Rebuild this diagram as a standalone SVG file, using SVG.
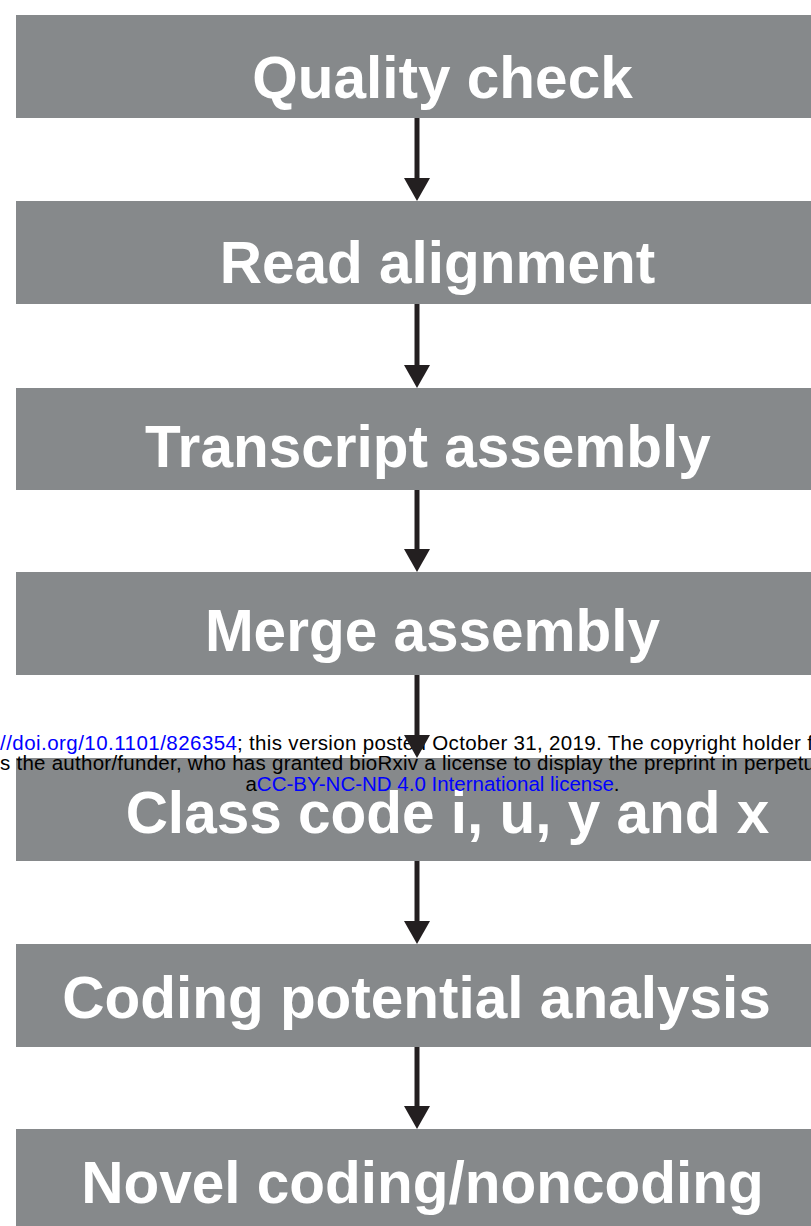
<svg xmlns="http://www.w3.org/2000/svg" width="811" height="1226" viewBox="0 0 811 1226">
<defs>
<style>
.box{fill:#86898b;}
.lbl{font-family:"Liberation Sans",Arial,sans-serif;font-weight:bold;font-size:58.5px;fill:#ffffff;text-anchor:middle;}
.wm{font-family:"Liberation Sans",Arial,sans-serif;font-size:20.5px;fill:#000000;}
.lnk{fill:#0000ff;}
.conn line{stroke:#231f20;stroke-width:5;}
.conn polygon{fill:#231f20;}
</style>
</defs>
<rect width="811" height="1226" fill="#ffffff"/>
<g id="node-quality"><rect class="box" x="16" y="15" width="810" height="103"/><text class="lbl" x="442.5" y="98">Quality check</text></g>
<g id="node-read"><rect class="box" x="16" y="201" width="810" height="103"/><text class="lbl" x="437.5" y="283">Read alignment</text></g>
<g id="node-transcript"><rect class="box" x="16" y="388" width="810" height="102"/><text class="lbl" x="428" y="467">Transcript assembly</text></g>
<g id="node-merge"><rect class="box" x="16" y="572" width="810" height="103"/><text class="lbl" x="432.5" y="651">Merge assembly</text></g>
<g id="node-class"><rect class="box" x="16" y="758" width="810" height="103"/><text class="lbl" x="447.5" y="833">Class code i, u, y and x</text></g>
<g id="node-coding"><rect class="box" x="16" y="944" width="810" height="103"/><text class="lbl" x="416.5" y="1018">Coding potential analysis</text></g>
<g id="node-novel"><rect class="box" x="16" y="1129" width="810" height="103"/><text class="lbl" x="422.5" y="1203">Novel coding/noncoding</text></g>
<g id="watermark">
<text class="wm" x="0" y="750"><tspan class="lnk" textLength="237">//doi.org/10.1101/826354</tspan><tspan x="237" textLength="576">; this version posted October 31, 2019. The copyright holder f</tspan></text>
<text class="wm" x="0" y="770" textLength="815">s the author/funder, who has granted bioRxiv a license to display the preprint in perpetu</text>
<text class="wm" x="432.5" y="791" text-anchor="middle">a<tspan class="lnk">CC-BY-NC-ND 4.0 International license</tspan>.</text>
</g>
<g id="connectors" class="conn">
<line x1="417" y1="118" x2="417" y2="180"/><polygon points="404,178 430,178 417,201"/>
<line x1="417" y1="304" x2="417" y2="366"/><polygon points="404,365 430,365 417,388"/>
<line x1="417" y1="490" x2="417" y2="551"/><polygon points="404,549 430,549 417,572"/>
<line x1="417" y1="675" x2="417" y2="737"/><polygon points="404,735 430,735 417,758"/>
<line x1="417" y1="861" x2="417" y2="923"/><polygon points="404,921 430,921 417,944"/>
<line x1="417" y1="1047" x2="417" y2="1108"/><polygon points="404,1106 430,1106 417,1129"/>
</g>
</svg>
